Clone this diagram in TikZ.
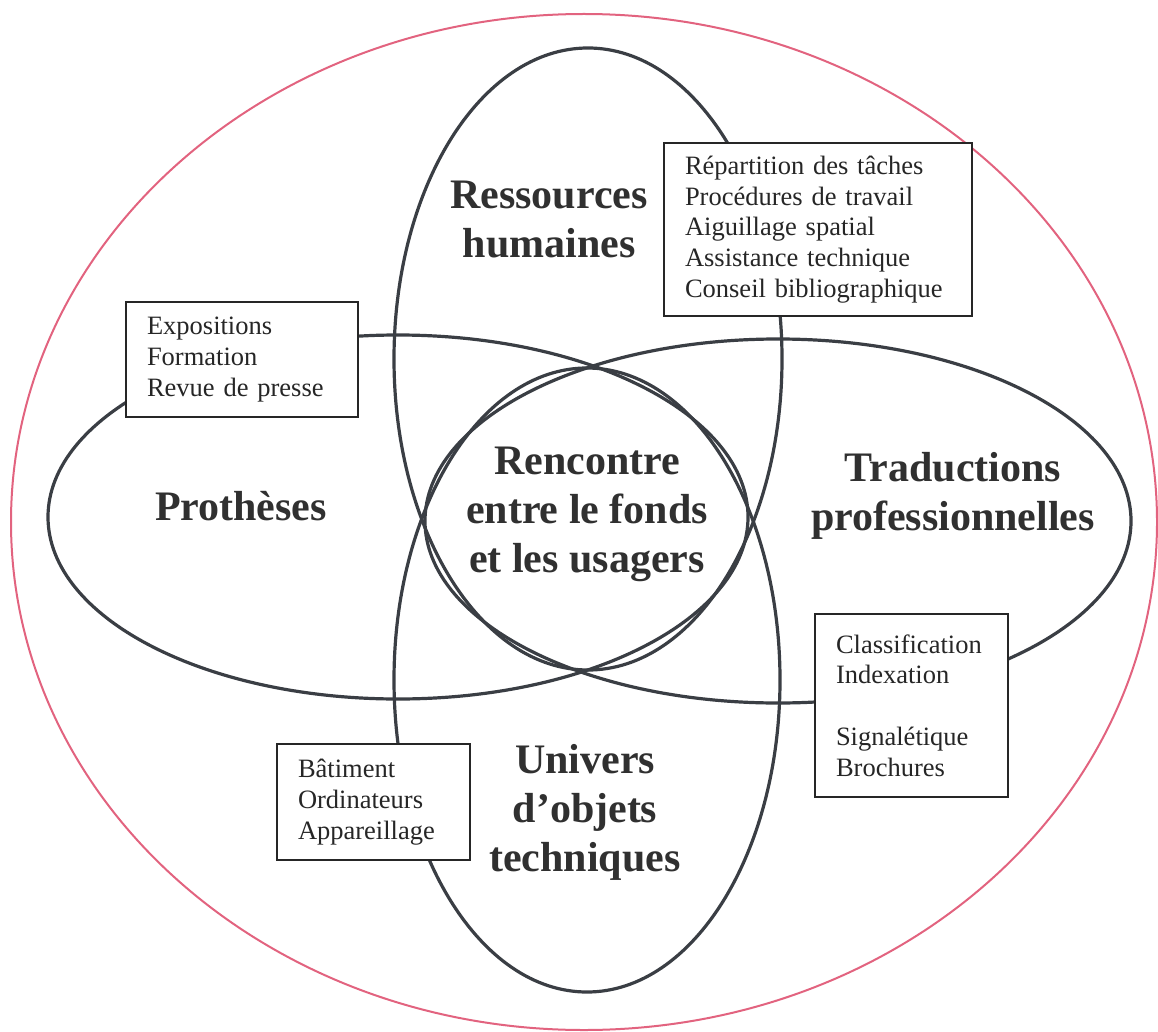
\documentclass[tikz,border=0pt]{standalone}
\usepackage{fontspec}
\setmainfont{Liberation Serif}
\usetikzlibrary{shapes.geometric}
\definecolor{pinkline}{HTML}{E2637F}
\definecolor{ink}{HTML}{3A3E44}
\definecolor{txt}{HTML}{303030}
\begin{document}
\begin{tikzpicture}[x=1pt,y=-1pt,
  petal/.style={draw=ink, line width=3.2pt, ellipse, inner sep=0pt, outer sep=0pt},
  infobox/.style={draw=black!85, line width=1.6pt, fill=white, inner ysep=0pt, inner xsep=21pt, align=left,
    font=\fontsize{26.5}{30.8}\selectfont, text=black!85},
  biglabel/.style={font=\fontsize{42}{49}\selectfont\bfseries, text=txt, align=center, inner sep=0pt}]
\useasboundingbox (0,0) rectangle (1158,1032);
\node[draw=pinkline, line width=2pt, ellipse, inner sep=0pt, minimum width=1146pt, minimum height=1016pt] (outer) at (584,522) {};
\node[petal, minimum width=388pt, minimum height=622pt] (humaines) at (588,359) {};
\node[petal, minimum width=386pt, minimum height=624pt] (objets) at (587,680) {};
\node[petal, minimum width=700pt, minimum height=364pt] (protheses) at (398,517) {};
\node[petal, minimum width=706pt, minimum height=364pt] (traductions) at (778,521) {};
\node[infobox, text width=266pt, minimum height=173pt] (boxA) at (818,229.5)
  {Répartition des tâches\\Procédures de travail\\Aiguillage spatial\\Assistance technique\\Conseil bibliographique};
\node[infobox, text width=190pt, minimum height=115pt] (boxB) at (242,359.5)
  {Expositions\\Formation\\Revue de presse};
\node[infobox, text width=151pt, minimum height=183pt] (boxC) at (911.5,705.5)
  {Classification\\Indexation\\[30.8pt]Signalétique\\Brochures};
\node[infobox, text width=151pt, minimum height=116pt] (boxD) at (373.5,802)
  {Bâtiment\\Ordinateurs\\Appareillage};
\node[biglabel, anchor=north] (rh) at (549,181) {Ressources\\humaines};
\node[biglabel, anchor=base] (pr) at (241,520) {Prothèses};
\node[biglabel, anchor=north] (tp) at (953,452) {Traductions\\professionnelles};
\node[biglabel, anchor=north] (rc) at (587,447) {Rencontre\\entre le fonds\\et les usagers};
\node[biglabel, anchor=north] (uo) at (585,744) {Univers\\d’objets\\techniques};
\end{tikzpicture}
\end{document}
